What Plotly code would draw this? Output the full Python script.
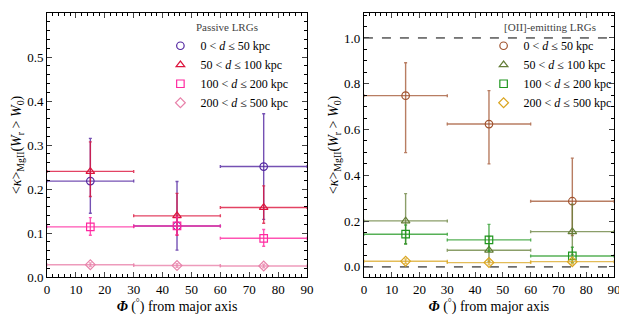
import plotly.graph_objects as go

phi = [15, 45, 75]
phi_err = [15, 15, 15]

labels = ["0 &lt; <i>d</i> ≤ 50 kpc", "50 &lt; <i>d</i> ≤ 100 kpc",
          "100 &lt; <i>d</i> ≤ 200 kpc", "200 &lt; <i>d</i> ≤ 500 kpc"]

# Passive LRGs
pas_0 = [0.218, 0.116, 0.251]
pas_0_up = [0.097, 0.101, 0.120]
pas_0_dn = [0.073, 0.055, 0.120]
pas_1 = [0.240, 0.139, 0.158]
pas_1_up = [0.067, 0.051, 0.049]
pas_1_dn = [0.057, 0.044, 0.036]
pas_2 = [0.114, 0.116, 0.088]
pas_2_up = [0.021, 0.020, 0.020]
pas_2_dn = [0.019, 0.020, 0.018]
pas_3 = [0.028, 0.026, 0.025]
pas_3_up = [0.004, 0.004, 0.004]
pas_3_dn = [0.004, 0.004, 0.004]

# [OII]-emitting LRGs
emi_0 = [0.748, 0.624, 0.287]
emi_0_up = [0.144, 0.146, 0.188]
emi_0_dn = [0.249, 0.174, 0.150]
emi_1 = [0.201, 0.073, 0.154]
emi_1_up = [0.119, 0.060, 0.120]
emi_1_dn = [0.100, 0.050, 0.100]
emi_2 = [0.143, 0.118, 0.048]
emi_2_up = [0.040, 0.068, 0.038]
emi_2_dn = [0.043, 0.050, 0.030]
emi_3 = [0.025, 0.019, 0.023]
emi_3_up = [0.010, 0.010, 0.010]
emi_3_dn = [0.010, 0.010, 0.010]

pas_colors = ["82,38,160", "220,20,60", "255,40,160", "232,130,170"]
emi_colors = ["160,82,45", "100,125,55", "30,150,30", "218,165,32"]
symbols = ["circle-open", "triangle-up-open", "square-open", "diamond-open"]

FONT = "Liberation Serif"

fig = go.Figure()

pas = [(pas_0, pas_0_up, pas_0_dn), (pas_1, pas_1_up, pas_1_dn),
       (pas_2, pas_2_up, pas_2_dn), (pas_3, pas_3_up, pas_3_dn)]
emi = [(emi_0, emi_0_up, emi_0_dn), (emi_1, emi_1_up, emi_1_dn),
       (emi_2, emi_2_up, emi_2_dn), (emi_3, emi_3_up, emi_3_dn)]

for i, (y, up, dn) in enumerate(pas):
    c = pas_colors[i]
    fig.add_trace(go.Scatter(
        x=phi, y=y, mode="markers", name=labels[i],
        marker=dict(symbol=symbols[i], size=7.5, color=f"rgb({c})",
                    line=dict(width=1.2, color=f"rgb({c})")),
        error_x=dict(type="data", array=phi_err, color=f"rgba({c},0.8)", thickness=1.4, width=1.5),
        error_y=dict(type="data", array=up, arrayminus=dn, color=f"rgba({c},0.8)", thickness=1.4, width=1.5),
        xaxis="x", yaxis="y", legend="legend"))

for i, (y, up, dn) in enumerate(emi):
    c = emi_colors[i]
    fig.add_trace(go.Scatter(
        x=phi, y=y, mode="markers", name=labels[i],
        marker=dict(symbol=symbols[i], size=7.5, color=f"rgb({c})",
                    line=dict(width=1.2, color=f"rgb({c})")),
        error_x=dict(type="data", array=phi_err, color=f"rgba({c},0.75)", thickness=1.4, width=1.5),
        error_y=dict(type="data", array=up, arrayminus=dn, color=f"rgba({c},0.75)", thickness=1.4, width=1.5),
        xaxis="x2", yaxis="y2", legend="legend2"))

for yv in [0.0, 1.0]:
    fig.add_shape(type="line", xref="x2", yref="y2", x0=0, x1=90, y0=yv, y1=yv,
                  line=dict(color="black", width=1, dash="dash"), layer="below")

ytitle = "&lt;<i>κ</i>&gt;<sub>MgII</sub>(<i>W</i><sub>r</sub> &gt; <i>W</i><sub>0</sub>)"
xtitle = "<b><i>Φ</i></b> (<sup>°</sup>) from major axis"

common_x = dict(range=[0, 90], dtick=10, tick0=0, ticks="inside", ticklen=5, mirror="allticks",
                showline=True, linecolor="black", linewidth=1, showgrid=False, zeroline=False,
                automargin=False,
                minor=dict(dtick=2, ticks="inside", ticklen=3, tickcolor="black"),
                tickfont=dict(size=13, family=FONT, color="black"),
                title=dict(text=xtitle, font=dict(size=14, family=FONT, color="black"), standoff=3))
common_y = dict(ticks="inside", ticklen=5, mirror="allticks", showline=True, linecolor="black",
                linewidth=1, showgrid=False, zeroline=False, automargin=False,
                tickfont=dict(size=13, family=FONT, color="black"),
                title=dict(text=ytitle, font=dict(size=14, family=FONT, color="black"), standoff=2))

fig.update_layout(
    width=619, height=309,
    margin=dict(l=39, r=13, t=5, b=40, autoexpand=False),
    paper_bgcolor="white", plot_bgcolor="white",
    font=dict(family=FONT, color="black"),
    xaxis=dict(domain=[0, 0.4586], anchor="y", **common_x),
    xaxis2=dict(domain=[0.559, 1], anchor="y2", **common_x),
    yaxis=dict(domain=[0, 1], anchor="x", range=[0, 0.6], dtick=0.1, tickformat=".1f",
               minor=dict(dtick=0.02, ticks="inside", ticklen=3, tickcolor="black"), **common_y),
    yaxis2=dict(domain=[0, 1], anchor="x2", range=[-0.044, 1.109], dtick=0.2, tick0=0, tickformat=".1f",
                minor=dict(dtick=0.05, ticks="inside", ticklen=3, tickcolor="black"), **common_y),
    legend=dict(x=0.2, y=0.985, xanchor="left", yanchor="top", bgcolor="rgba(0,0,0,0)",
                font=dict(size=12, family=FONT), tracegroupgap=0, itemwidth=30,
                title=dict(text="Passive LRGs", side="top center", font=dict(size=11, family=FONT, color="#444"))),
    legend2=dict(x=0.77, y=0.985, xanchor="left", yanchor="top", bgcolor="rgba(0,0,0,0)",
                 font=dict(size=12, family=FONT), tracegroupgap=0, itemwidth=30,
                 title=dict(text="[OII]-emitting LRGs", side="top center", font=dict(size=11, family=FONT, color="#444"))),
)

fig.write_html("out.html")
